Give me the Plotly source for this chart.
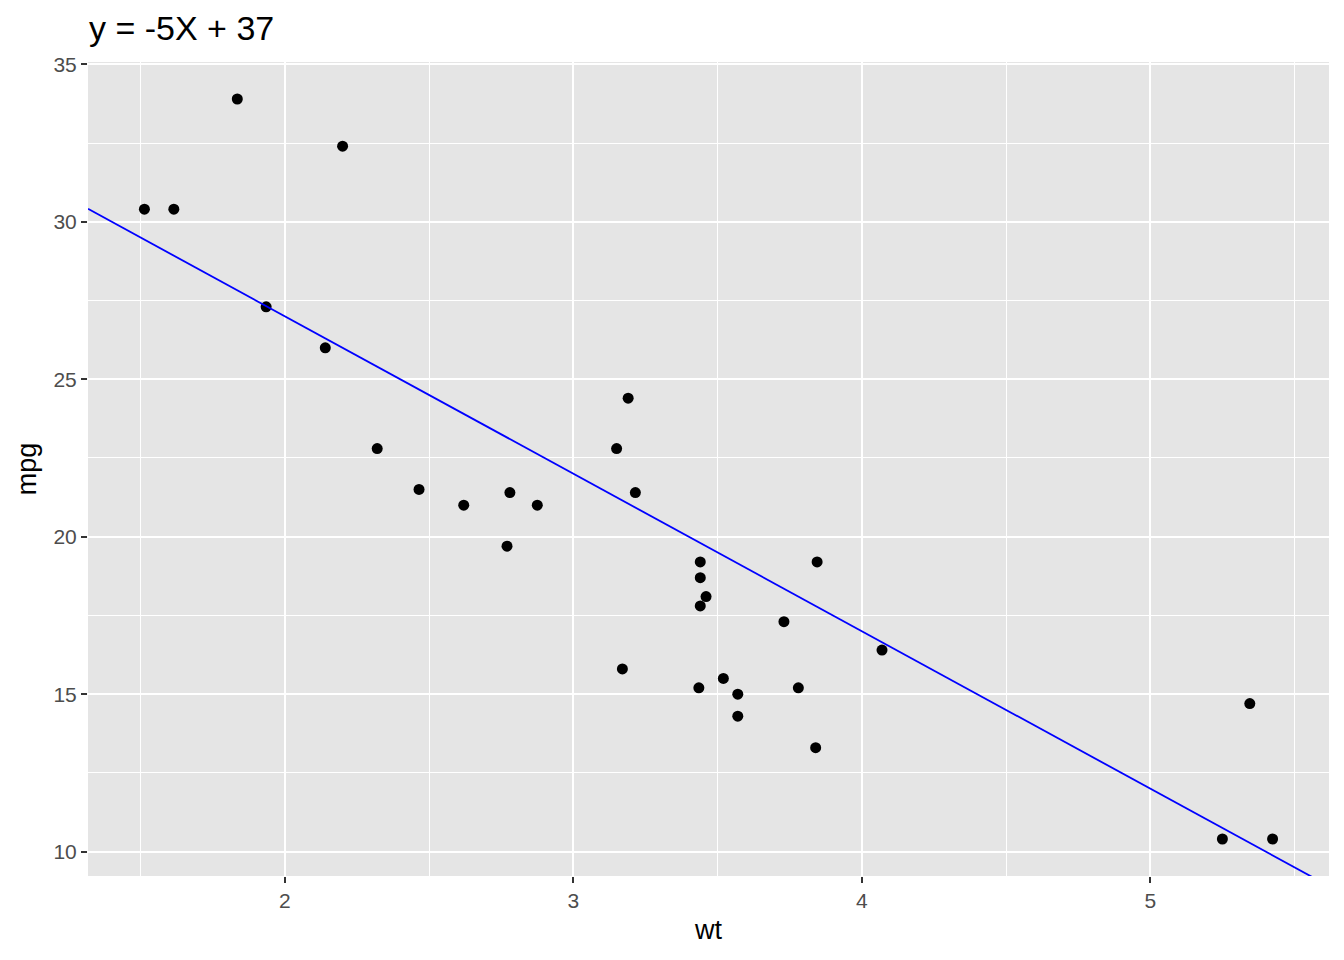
import plotly.graph_objects as go

wt = [2.620, 2.875, 2.320, 3.215, 3.440, 3.460, 3.570, 3.190, 3.150, 3.440, 3.440,
      4.070, 3.730, 3.780, 5.250, 5.424, 5.345, 2.200, 1.615, 1.835, 2.465, 3.520,
      3.435, 3.840, 3.845, 1.935, 2.140, 1.513, 3.170, 2.770, 3.570, 2.780]
mpg = [21.0, 21.0, 22.8, 21.4, 18.7, 18.1, 14.3, 24.4, 22.8, 19.2, 17.8,
       16.4, 17.3, 15.2, 10.4, 10.4, 14.7, 32.4, 30.4, 33.9, 21.5, 15.5,
       15.2, 13.3, 19.2, 27.3, 26.0, 30.4, 15.8, 19.7, 15.0, 21.4]
slope = -5
intercept = 37

xmin, xmax = min(wt), max(wt)
ymin, ymax = min(mpg), max(mpg)
xr = [xmin - 0.05 * (xmax - xmin), xmax + 0.05 * (xmax - xmin)]
yr = [ymin - 0.05 * (ymax - ymin), ymax + 0.05 * (ymax - ymin)]

fig = go.Figure()
fig.add_trace(go.Scatter(x=wt, y=mpg, mode="markers",
                         marker=dict(color="black", size=11, line=dict(width=0)), showlegend=False))
fig.add_trace(go.Scatter(x=xr, y=[slope * v + intercept for v in xr], mode="lines",
                         line=dict(color="blue", width=1.8), showlegend=False))

FONT = "Liberation Sans, Arial"
axis_common = dict(
    showgrid=True, gridcolor="white", gridwidth=2, zeroline=False,
    ticks="outside", ticklen=6, tickcolor="#333333", tickwidth=2,
    tickfont=dict(family=FONT, size=21, color="#4D4D4D"),
    showline=False, automargin=False,
)
fig.update_xaxes(range=xr, tickvals=[2, 3, 4, 5], ticktext=["2", "3", "4", "5"],
                 minor=dict(tickvals=[1.5, 2.5, 3.5, 4.5, 5.5], showgrid=True,
                            gridcolor="white", gridwidth=1, ticks=""),
                 title=dict(text="wt", font=dict(family=FONT, size=27, color="black"), standoff=8),
                 **axis_common)
fig.update_yaxes(range=yr, tickvals=[10, 15, 20, 25, 30, 35],
                 minor=dict(tickvals=[12.5, 17.5, 22.5, 27.5, 32.5], showgrid=True,
                            gridcolor="white", gridwidth=1, ticks=""),
                 title=dict(text="mpg", font=dict(family=FONT, size=27, color="black"), standoff=8),
                 **axis_common)

fig.update_layout(
    width=1344, height=960,
    plot_bgcolor="#E5E5E5", paper_bgcolor="white",
    margin=dict(l=88, r=15, t=62, b=84),
    title=dict(text="y = -5X + 37", x=89 / 1344, xanchor="left", y=1 - 28 / 960, yanchor="middle",
               font=dict(family=FONT, size=34, color="black")),
)

fig.write_html("out.html", config={"displayModeBar": False},
               post_script="document.body.style.margin='0';document.body.style.overflow='hidden';")
